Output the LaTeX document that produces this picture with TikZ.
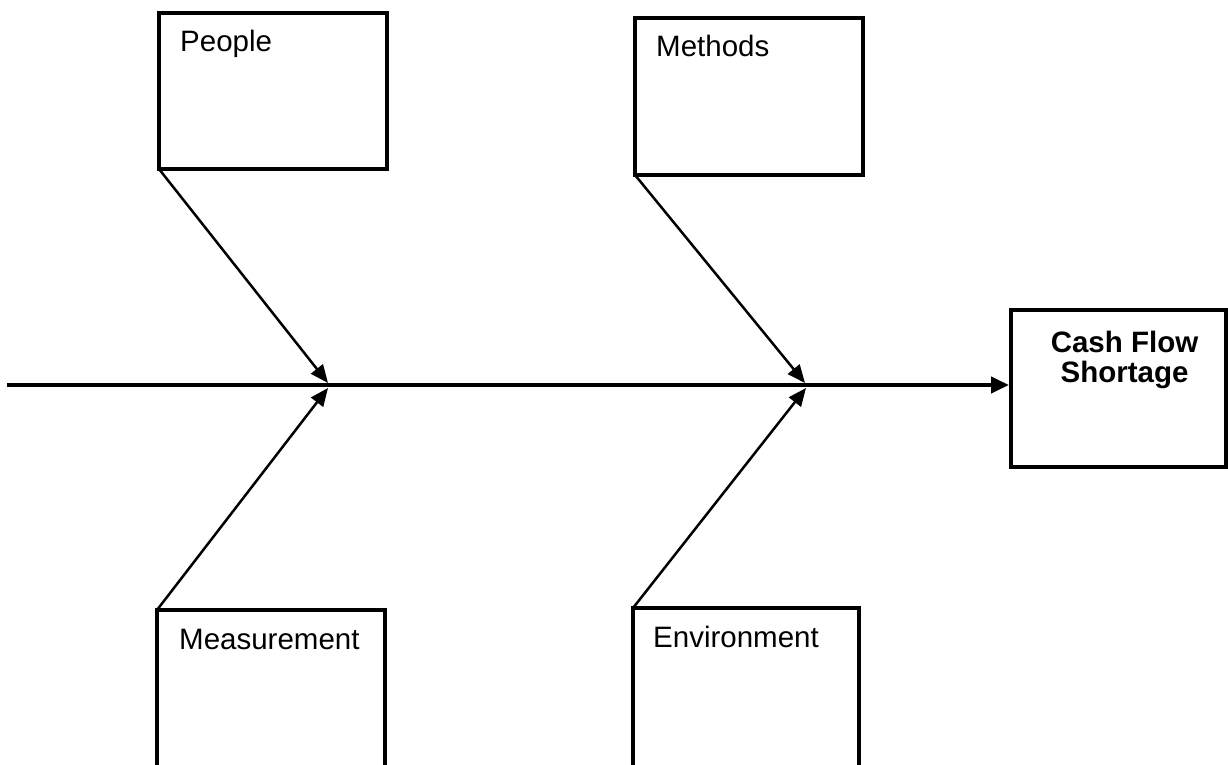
\documentclass[tikz,border=0pt]{standalone}
\usepackage{fontspec}
\setmainfont{Liberation Sans}
\usetikzlibrary{arrows.meta}
\begin{document}
\begin{tikzpicture}[x=1pt,y=-1pt,
  catbox/.style={draw=black,line width=4.5pt,rectangle,inner sep=0pt,outer sep=0pt,fill=white},
  lbl/.style={anchor=base west,inner sep=0pt,font=\fontsize{29.5}{33}\selectfont},
  bone/.style={draw=black,line width=2.5pt,-{Triangle[length=18pt,width=15pt]}},
  spine/.style={draw=black,line width=4pt,-{Triangle[length=18pt,width=16pt]}}]
\useasboundingbox (0,0) rectangle (1228,765);
\fill[white] (0,0) rectangle (1228,765);
% boxes
\node[catbox,minimum width=228pt,minimum height=156pt] (people) at (273,91) {};
\node[catbox,minimum width=228pt,minimum height=157pt] (methods) at (749,96.5) {};
\node[catbox,minimum width=215pt,minimum height=157pt] (cash) at (1118.5,388.5) {};
\node[catbox,minimum width=228pt,minimum height=190pt] (measure) at (271,705) {};
\node[catbox,minimum width=226pt,minimum height=190pt] (env) at (746,703) {};
% labels
\node[lbl] (tpeople) at (180,52) {People};
\node[lbl] (tmethods) at (656,57) {Methods};
\node[lbl] (tmeasure) at (179,649) {Measurement};
\node[lbl] (tenv) at (653,647) {Environment};
\node[inner sep=0pt,anchor=base,font=\fontsize{29.5}{31}\selectfont\bfseries] (tcash1) at (1124.5,352) {Cash Flow};
\node[inner sep=0pt,anchor=base,font=\fontsize{29.5}{31}\selectfont\bfseries] (tcash2) at (1124.5,382) {Shortage};
% spine
\coordinate (tail) at (7,385);
\coordinate (head) at ([xshift=-2pt]cash.west |- tail);
\draw[spine] (tail) -- (head);
% bones
\coordinate (j1a) at (328,383);
\coordinate (j1b) at (328,388);
\coordinate (j2a) at (805,383);
\coordinate (j2b) at (806,388);
\draw[bone] (people.south west) -- (j1a);
\draw[bone] (measure.north west) -- (j1b);
\draw[bone] (methods.south west) -- (j2a);
\draw[bone] (env.north west) -- (j2b);
\end{tikzpicture}
\end{document}
